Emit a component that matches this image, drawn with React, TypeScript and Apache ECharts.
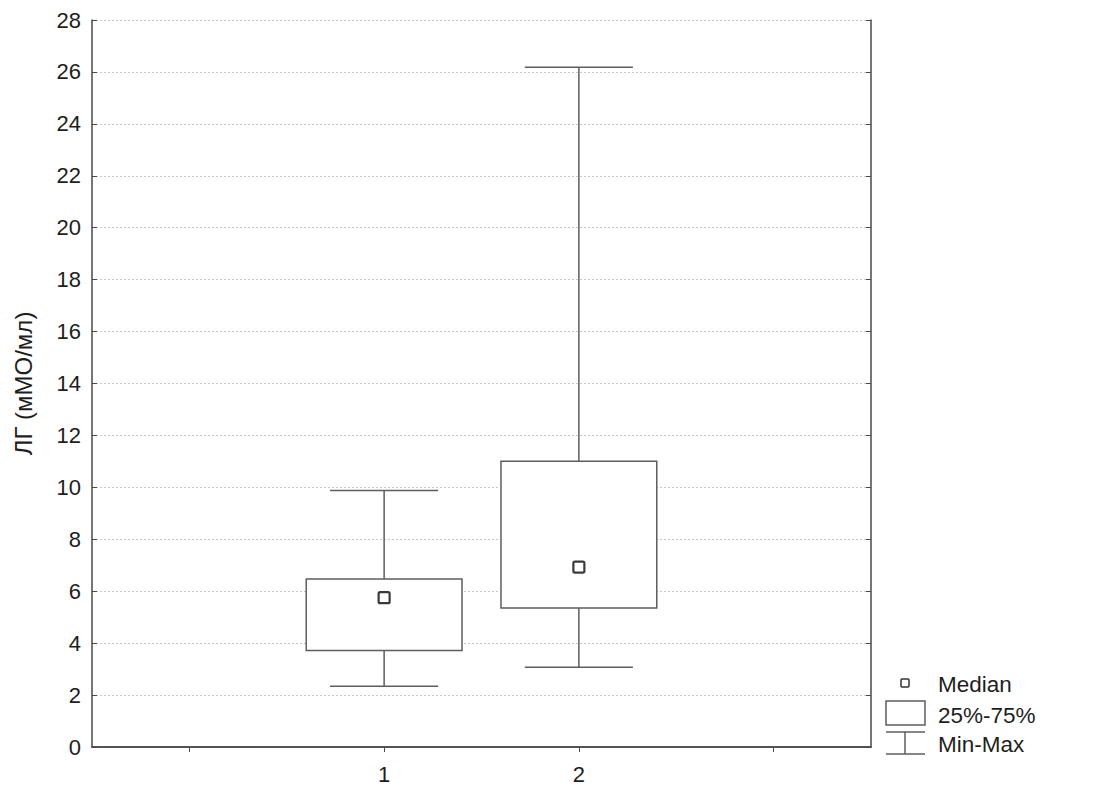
import React, { useEffect, useRef } from "react";
import * as echarts from "echarts";

const categories = ["", "1", "2", ""];
const groupIndex = [1, 2];
const minValues = [2.34, 3.07];
const q1Values = [3.72, 5.35];
const medianValues = [5.75, 6.93];
const q3Values = [6.47, 11.01];
const maxValues = [9.88, 26.18];
const yMin = 0;
const yMax = 28;
const yStep = 2;
const legendLabels = ["Median", "25%-75%", "Min-Max"];
const yAxisName = "ЛГ (мМО/мл)";

const FONT = "'Liberation Sans', Arial, sans-serif";
const AXIS = "#4a4a4a";
const LINE = "#5e5e5e";

export default function App() {
  const ref = useRef<HTMLDivElement>(null);
  useEffect(() => {
    if (!ref.current) return;
    const chart = echarts.init(ref.current, undefined, { renderer: "svg" });
    const data = groupIndex.map((g, i) => [
      g,
      minValues[i],
      q1Values[i],
      medianValues[i],
      q3Values[i],
      maxValues[i],
    ]);
    const renderItem = (params: any, api: any) => {
      const x = api.value(0);
      const pMin = api.coord([x, api.value(1)]);
      const pQ1 = api.coord([x, api.value(2)]);
      const pMed = api.coord([x, api.value(3)]);
      const pQ3 = api.coord([x, api.value(4)]);
      const pMax = api.coord([x, api.value(5)]);
      const band = api.size([1, 0])[0];
      const bw = band * 0.8;
      const cw = band * 0.555;
      const cx = pMin[0];
      const lineStyle = { stroke: LINE, lineWidth: 1.5, fill: null };
      const ms = 11;
      return {
        type: "group",
        children: [
          { type: "line", shape: { x1: cx, y1: pMax[1], x2: cx, y2: pQ3[1] }, style: lineStyle },
          { type: "line", shape: { x1: cx, y1: pQ1[1], x2: cx, y2: pMin[1] }, style: lineStyle },
          { type: "line", shape: { x1: cx - cw / 2, y1: pMax[1], x2: cx + cw / 2, y2: pMax[1] }, style: lineStyle },
          { type: "line", shape: { x1: cx - cw / 2, y1: pMin[1], x2: cx + cw / 2, y2: pMin[1] }, style: lineStyle },
          {
            type: "rect",
            shape: { x: cx - bw / 2, y: pQ3[1], width: bw, height: pQ1[1] - pQ3[1] },
            style: { stroke: LINE, lineWidth: 1.5, fill: "#ffffff" },
          },
          {
            type: "rect",
            shape: { x: cx - ms / 2, y: pMed[1] - ms / 2, width: ms, height: ms, r: 1.5 },
            style: { stroke: "#3a3a3a", lineWidth: 2.2, fill: "#ffffff" },
          },
        ],
      };
    };
    const textStyle = { fontFamily: FONT, fontSize: 22.5, fill: "#1e1e1e" };
    const option: any = {
      animation: false,
      backgroundColor: "#ffffff",
      grid: { left: 92, right: 222, top: 20, bottom: 49, containLabel: false },
      xAxis: [
        {
          type: "category",
          data: categories,
          boundaryGap: true,
          axisLine: { lineStyle: { color: AXIS, width: 1.5 } },
          axisTick: { inside: true, alignWithLabel: true, length: 5, lineStyle: { color: AXIS } },
          axisLabel: { color: "#1e1e1e", fontFamily: FONT, fontSize: 22, margin: 16 },
          splitLine: { show: false },
        },
        {
          type: "category",
          data: categories,
          position: "top",
          boundaryGap: true,
          axisLine: { show: true, lineStyle: { color: AXIS, width: 1.5 } },
          axisTick: { show: true, inside: true, alignWithLabel: true, length: 5, lineStyle: { color: AXIS } },
          axisLabel: { show: false },
          splitLine: { show: false },
        },
      ],
      yAxis: [
        {
          type: "value",
          min: yMin,
          max: yMax,
          interval: yStep,
          name: yAxisName,
          nameLocation: "middle",
          nameGap: 57,
          nameTextStyle: { color: "#1e1e1e", fontFamily: FONT, fontSize: 24 },
          axisLine: { show: true, lineStyle: { color: AXIS, width: 1.5 } },
          axisTick: { show: true, inside: true, length: 5, lineStyle: { color: AXIS } },
          axisLabel: { color: "#1e1e1e", fontFamily: FONT, fontSize: 22, margin: 11 },
          splitLine: { show: true, lineStyle: { color: "#c8c8c8", type: [2, 2], width: 1 } },
        },
        {
          type: "value",
          min: yMin,
          max: yMax,
          interval: yStep,
          position: "right",
          axisLine: { show: true, lineStyle: { color: AXIS, width: 1.5 } },
          axisTick: { show: true, inside: true, length: 5, lineStyle: { color: AXIS } },
          axisLabel: { show: false },
          splitLine: { show: false },
        },
      ],
      series: [
        {
          type: "custom",
          xAxisIndex: 0,
          yAxisIndex: 0,
          renderItem,
          data,
          encode: { x: 0, y: [1, 2, 3, 4, 5] },
          z: 10,
        },
      ],
      graphic: [
        {
          type: "rect",
          shape: { x: 901, y: 679, width: 8, height: 8, r: 1 },
          style: { stroke: "#333", lineWidth: 1.5, fill: "#fff" },
        },
        {
          type: "rect",
          shape: { x: 886, y: 701, width: 39, height: 24 },
          style: { stroke: LINE, lineWidth: 1.5, fill: "#fff" },
        },
        { type: "line", shape: { x1: 886, y1: 732, x2: 925, y2: 732 }, style: { stroke: LINE, lineWidth: 1.5 } },
        { type: "line", shape: { x1: 905, y1: 732, x2: 905, y2: 754 }, style: { stroke: LINE, lineWidth: 1.5 } },
        { type: "line", shape: { x1: 886, y1: 754, x2: 925, y2: 754 }, style: { stroke: LINE, lineWidth: 1.5 } },
        { type: "text", x: 938, y: 684, style: { ...textStyle, text: legendLabels[0], verticalAlign: "middle" } },
        { type: "text", x: 938, y: 715, style: { ...textStyle, text: legendLabels[1], verticalAlign: "middle" } },
        { type: "text", x: 938, y: 744, style: { ...textStyle, text: legendLabels[2], verticalAlign: "middle" } },
      ],
    };
    chart.setOption(option);
    return () => chart.dispose();
  }, []);
  return (
    <div
      ref={ref}
      style={{ position: "fixed", left: 0, top: 0, width: 1093, height: 796, background: "#fff" }}
    />
  );
}
